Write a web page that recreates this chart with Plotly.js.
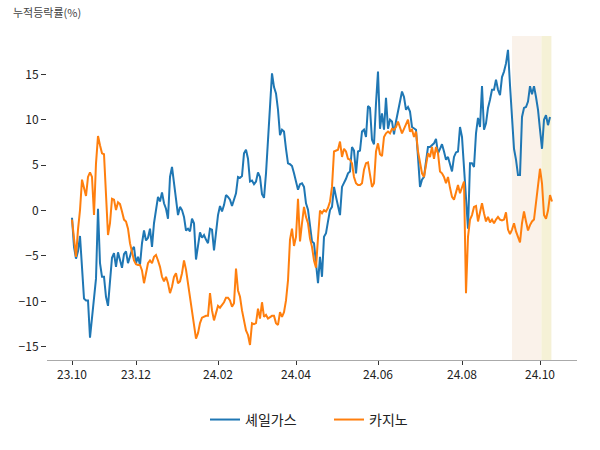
<!DOCTYPE html>
<html>
<head>
<meta charset="utf-8">
<script src="https://cdn.plot.ly/plotly-3.0.1.min.js"></script>
<style>html,body{margin:0;padding:0;background:#fff;}#chart{width:600px;height:450px;}</style>
</head>
<body>
<div id="chart"></div>
<script>
// Trading-day series (one value per trading day, cumulative % change)
const shaleGas = [
-0.8,-4.0,-5.3,-4.5,-2.8,-6.5,-9.7,-9.9,-9.9,-14.0,
-12.0,-9.5,-7.5,0.2,-5.8,-7.3,-7.3,-9.5,-10.5,-7.8,
-5.2,-4.7,-6.2,-4.6,-5.5,-6.3,-4.8,-4.5,-5.8,-5.1,
-4.3,-4.0,-5.8,-5.1,-6.0,-3.6,-2.2,-3.3,-3.0,-2.0,
-4.0,-1.4,0.05,1.5,1.0,2.0,0.8,0.2,-0.9,3.7,
4.8,3.0,1.2,-0.5,0.4,0.05,-0.7,-2.2,-2.0,-2.3,
-0.9,-1.4,-5.4,-3.8,-2.4,-3.0,-2.7,-3.2,-3.6,-2.0,
-2.1,-4.4,-2.6,-0.5,0.5,-0.1,0.6,1.7,1.5,1.2,
0.5,1.3,1.9,3.7,3.6,3.8,6.3,6.7,5.7,3.2,
3.3,2.9,3.2,4.2,3.7,1.8,1.4,4.1,7.8,12.2,
15.1,13.6,12.9,11.1,8.3,8.9,8.7,6.8,5.2,5.1,
4.9,4.1,3.2,2.3,2.9,3.0,2.6,0.8,0.1,-1.4,
-3.4,-3.6,-5.8,-8.0,-5.1,-7.3,-2.9,-2.5,-1.2,0.05,
0.4,2.6,1.5,0.6,-0.5,2.6,3.0,3.5,4.1,4.3,
7.0,6.6,4.1,6.5,6.6,8.7,8.9,8.1,11.5,11.3,
7.8,7.3,11.8,15.3,9.0,10.7,8.9,12.4,9.0,10.0,
9.8,8.4,9.8,10.9,12.0,13.1,12.5,11.1,11.4,10.9,
9.2,9.0,8.9,5.9,2.6,3.4,3.7,5.4,7.0,7.0,
7.2,7.4,7.9,6.3,6.8,7.3,6.5,5.6,5.9,5.2,
4.3,5.9,6.4,6.5,9.2,8.1,4.8,1.0,-2.0,5.2,
5.2,4.8,8.5,10.2,9.2,13.7,8.9,9.6,11.3,12.2,
13.3,13.3,14.4,13.3,12.7,14.7,15.3,16.2,17.7,13.8,
10.5,6.8,5.6,3.9,3.9,10.3,11.3,11.4,12.0,13.7,
12.8,13.7,12.5,11.1,8.9,6.8,10.0,10.5,9.4,10.3
];
const casino = [
-1.0,-3.1,-5.1,-2.1,0.05,3.4,2.6,1.6,3.7,4.2,
3.7,-0.5,5.2,8.2,7.2,6.3,6.2,1.0,-2.7,-1.4,
1.3,1.2,0.05,0.9,0.7,-0.1,-1.0,-1.2,-2.0,-3.6,
-4.5,-5.5,-5.9,-6.0,-6.0,-6.6,-8.0,-6.9,-5.8,-5.5,
-5.8,-5.1,-4.9,-5.5,-6.2,-7.3,-7.8,-7.3,-8.0,-9.1,
-8.4,-7.3,-6.9,-8.0,-7.8,-6.9,-5.5,-6.5,-8.0,-9.3,
-11.3,-12.8,-14.1,-13.5,-12.4,-11.8,-11.7,-11.6,-11.6,-9.1,
-11.0,-12.1,-11.3,-10.5,-10.7,-10.4,-10.1,-9.6,-9.6,-9.9,
-10.6,-10.2,-6.4,-8.8,-9.5,-11.0,-12.1,-13.2,-13.7,-14.8,
-12.4,-12.5,-12.4,-10.8,-11.9,-10.1,-11.7,-11.5,-11.9,-11.7,
-11.6,-11.6,-12.4,-12.6,-11.2,-11.7,-11.2,-9.9,-7.7,-3.2,
-2.0,-3.9,-2.9,1.3,-3.4,-1.4,0.4,-0.7,-1.4,-3.1,
-4.0,-5.5,-6.3,-3.0,0.0,-0.3,0.05,-0.1,0.3,1.0,
2.6,6.5,6.6,6.7,7.6,5.9,6.8,6.5,5.7,5.6,
5.2,3.7,3.0,2.8,2.8,3.0,4.5,5.2,5.3,3.7,
2.6,3.0,6.5,7.4,6.2,6.0,8.1,8.5,8.7,8.5,
9.0,8.9,9.2,9.8,9.2,8.5,9.0,9.5,10.0,8.7,
8.9,8.1,8.7,6.5,5.2,4.1,3.7,5.2,6.3,5.9,
7.0,5.7,7.0,6.3,4.3,4.1,3.7,3.0,3.7,2.5,
1.5,1.2,1.9,2.8,1.9,2.5,3.2,-9.1,-2.9,-1.0,
-0.5,0.4,0.5,-1.2,-0.1,0.8,-0.3,-1.2,-0.7,-1.3,
-1.0,-1.4,-1.0,-0.7,-1.0,-1.1,-1.0,-0.2,-2.1,-2.6,
-2.1,-1.4,-2.3,-2.9,-3.5,-1.4,-0.1,-1.2,-2.2,-1.6,
-1.2,-1.0,0.8,2.3,4.6,3.0,-0.5,-0.9,0.0,1.7,1.0
];
const seriesNames = ['셰일가스', '카지노'];
const seriesColors = ['#1f77b4', '#ff7f0e'];
// x-axis: first trading day of each labelled month (trading-day index)
const tickIdx = [0, 32, 73, 112, 153, 195, 234];
const tickLabels = ['23.10', '23.12', '24.02', '24.04', '24.06', '24.08', '24.10'];
// highlighted periods (trading-day index)
const band1 = [220, 234.7];
const band2 = [234.7, 239.7];

const idx = (arr) => arr.map((_, i) => i);

const font = "'Noto Sans CJK KR', 'Noto Sans', sans-serif";
const traces = [shaleGas, casino].map((vals, k) => ({
  x: idx(vals), y: vals, type: 'scatter', mode: 'lines',
  name: seriesNames[k], line: {color: seriesColors[k], width: 2}
}));

const layout = {
  width: 600, height: 450,
  margin: {l: 47, r: 23, t: 36, b: 90},
  paper_bgcolor: '#fff', plot_bgcolor: '#fff',
  font: {family: font, size: 12, color: '#222'},
  title: {text: '누적등락률(%)', x: 13/600, xanchor: 'left', xref: 'container',
          y: 1 - 13/450, yanchor: 'middle', yref: 'container',
          font: {family: font, size: 11, color: '#444'}},
  xaxis: {range: [-12.5, 252.5], tickvals: tickIdx, ticktext: tickLabels,
          showgrid: false, zeroline: false, showline: true, linecolor: '#aaa', linewidth: 1,
          ticks: 'outside', ticklen: 4, tickcolor: '#333', tickfont: {size: 12, color: '#222'}},
  yaxis: {range: [-16.46, 19.22], tickvals: [-15,-10,-5,0,5,10,15],
          showgrid: false, zeroline: false, showline: false,
          ticks: 'outside', ticklen: 5, tickcolor: '#333', tickfont: {size: 12, color: '#222'}},
  shapes: [
    {type: 'rect', xref: 'x', yref: 'paper', x0: band1[0], x1: band1[1], y0: 0, y1: 1,
     fillcolor: 'rgb(250,242,234)', line: {width: 0}, layer: 'below'},
    {type: 'rect', xref: 'x', yref: 'paper', x0: band2[0], x1: band2[1], y0: 0, y1: 1,
     fillcolor: 'rgb(245,241,214)', line: {width: 0}, layer: 'below'}
  ],
  showlegend: true,
  legend: {orientation: 'h', x: (205 - 47) / 530, xanchor: 'left', y: -0.185, yanchor: 'middle',
           entrywidth: 79, entrywidthmode: 'pixels',
           font: {size: 14, color: '#222'}, itemwidth: 30}
};

Plotly.newPlot('chart', traces, layout, {displayModeBar: false, staticPlot: true});
</script>
</body>
</html>
